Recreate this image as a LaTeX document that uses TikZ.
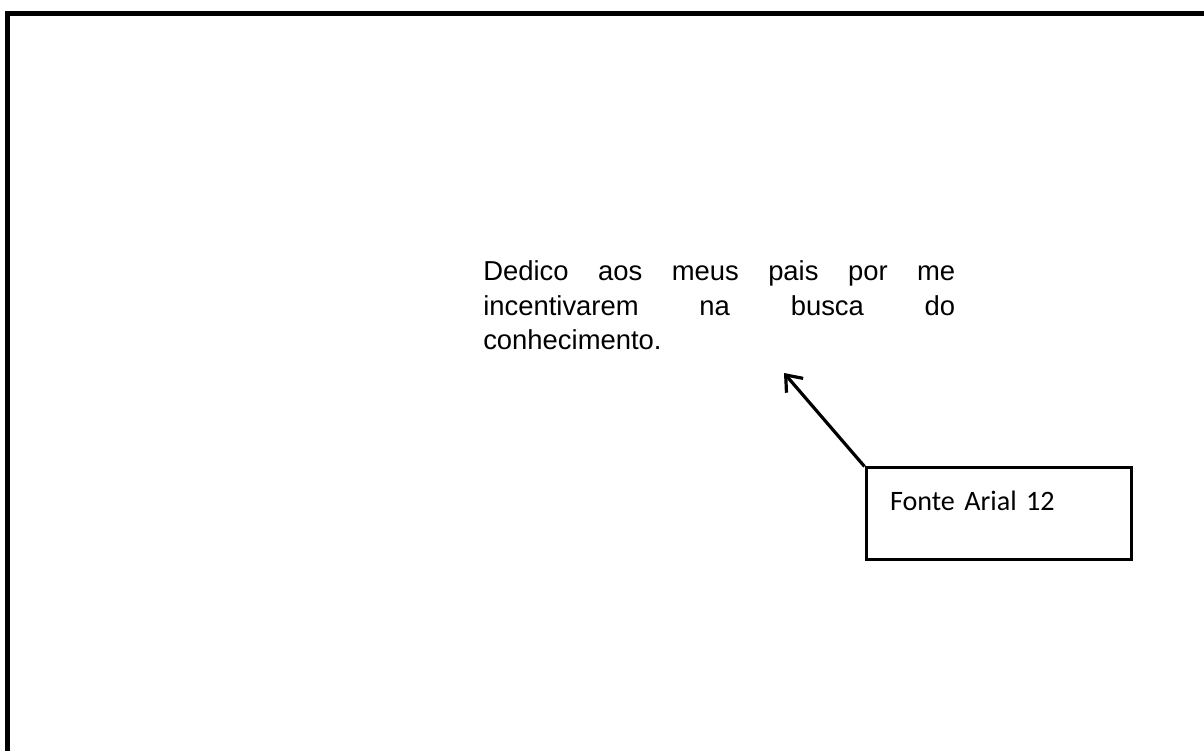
\documentclass[tikz,border=0pt]{standalone}
\usepackage{fontspec}
\setmainfont{Liberation Sans}
\newfontfamily\calibrifont{Carlito}
\usetikzlibrary{arrows.meta,positioning}
\tolerance=10000

\begin{document}
\begin{tikzpicture}[
    notebox/.style={draw, line width=0.075cm, minimum width=6.625cm, minimum height=2.3cm,
        text width=5.425cm, inner xsep=0.6cm, align=left, text height=0.48cm, text depth=0.63cm,
        font=\calibrifont\fontsize{20}{24}\selectfont},
    pointer/.style={line width=0.08cm, -{Straight Barb[length=3.5mm,width=5.5mm]}}]
    \useasboundingbox (0,0) rectangle (30.1,18.775);

    % Page frame
    \draw[line width=0.125cm] (0.1875,0) -- (0.1875,18.4375) -- (30.1,18.4375);

    % Dedication text
    \node[text width=11.8cm, align=justify, anchor=base west, inner sep=0,
        font=\fontsize{19.5}{24.2}\selectfont] (dedic) at (12.075,11.75)
        {Dedico aos meus pais por me\linebreak incentivarem na busca do\linebreak conhecimento.};

    % Note box
    \node[notebox] (note) at (24.9625,5.925) {Fonte Arial 12};

    % Arrow
    \coordinate (tip) at (19.6,9.45);
    \draw[pointer] (note.north west) -- (tip);
\end{tikzpicture}
\end{document}
